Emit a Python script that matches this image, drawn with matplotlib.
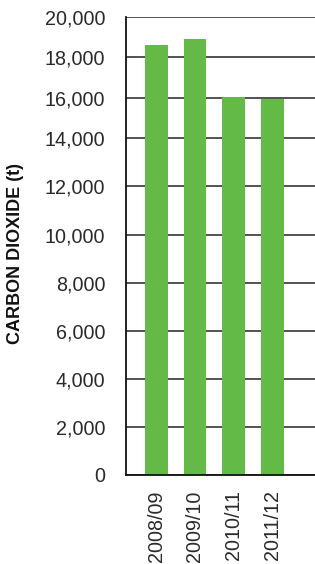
import numpy as np
import matplotlib
matplotlib.use("Agg")
import matplotlib.pyplot as plt
from matplotlib.ticker import StrMethodFormatter, FixedLocator

categories = ["2008/09", "2009/10", "2010/11", "2011/12"]
values = [18580, 18880, 16030, 15940]
yticks = list(range(0, 20001, 2000))

plt.rcParams['font.family'] = ['Liberation Sans', 'DejaVu Sans']

# The reference's value axis is slightly non-uniform (upper gridlines closer together)
_vb = [0, 14000, 20000]
_pb = [0.0, 336.7, 458.3]

def _fwd(v):
    v = np.asarray(v, dtype=float)
    return np.interp(v, _vb, _pb) + \
        np.where(v > _vb[-1], (v - _vb[-1]) * (_pb[-1] - _pb[-2]) / (_vb[-1] - _vb[-2]), 0) + \
        np.where(v < _vb[0], (v - _vb[0]) * (_pb[1] - _pb[0]) / (_vb[1] - _vb[0]), 0)

def _inv(p):
    p = np.asarray(p, dtype=float)
    return np.interp(p, _pb, _vb) + \
        np.where(p > _pb[-1], (p - _pb[-1]) * (_vb[-1] - _vb[-2]) / (_pb[-1] - _pb[-2]), 0) + \
        np.where(p < _pb[0], (p - _pb[0]) * (_vb[1] - _vb[0]) / (_pb[1] - _pb[0]), 0)

fig = plt.figure(figsize=(3.15, 5.64), dpi=100)
ax = fig.add_axes([0.4, 1 - 475 / 564, 0.6, (475 - 16.7) / 564])
ax.set_yscale('function', functions=(_fwd, _inv))

x = np.arange(len(categories))
ax.bar(x, values, width=0.587, color="#63BA47", zorder=3)

ax.set_ylim(0, 20000)
ax.set_xlim(-0.78, 4.1)
ax.yaxis.set_major_locator(FixedLocator(yticks))
ax.yaxis.set_minor_locator(FixedLocator([]))
ax.yaxis.set_major_formatter(StrMethodFormatter('{x:,.0f}'))
ax.grid(axis='y', color='#444444', linewidth=1.3, zorder=1)
ax.set_axisbelow(True)

ax.set_xticks(x)
ax.set_xticklabels(categories, rotation=90, fontsize=14.2, color='#2a2a2a')
ax.tick_params(axis='x', length=0, pad=11)
ax.tick_params(axis='y', length=0, pad=15, labelsize=14.2, labelcolor='#2a2a2a')

for s in ['top', 'right']:
    ax.spines[s].set_visible(False)
for s in ['left', 'bottom']:
    ax.spines[s].set_color('#111111')
    ax.spines[s].set_linewidth(1.3)
    ax.spines[s].set_zorder(4)

fig.text(16 / 315, 1 - 254 / 564, "CARBON DIOXIDE (t)", rotation=90,
         fontsize=13, fontweight='bold', color='#111111', ha='center', va='center')

fig.savefig("out.png", dpi=100)
